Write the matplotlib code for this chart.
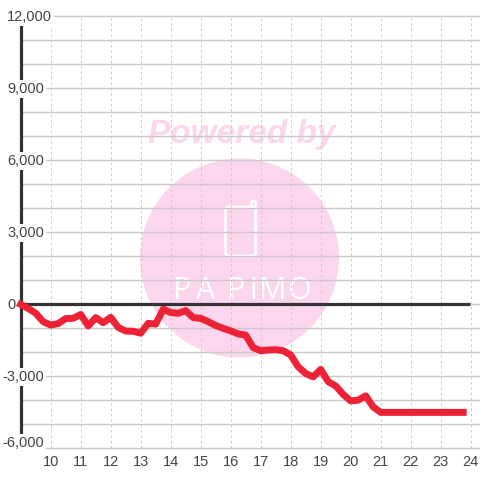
"""Cumulative balance by hour, with the Papimo watermark behind the plot."""

import matplotlib

matplotlib.use("Agg")
import matplotlib.pyplot as plt
from matplotlib.patches import Circle, FancyBboxPatch
from matplotlib.transforms import Affine2D, blended_transform_factory

plt.rcParams["font.family"] = ["Liberation Sans", "DejaVu Sans"]

HOURS = [
    9.0, 9.25, 9.5, 9.75, 10.0, 10.25, 10.5, 10.75, 11.0, 11.25, 11.5, 11.75,
    12.0, 12.25, 12.5, 12.75, 13.0, 13.25, 13.5, 13.75, 14.0, 14.25, 14.5, 14.75,
    15.0, 15.25, 15.5, 15.75, 16.0, 16.25, 16.5, 16.75, 17.0, 17.25, 17.5, 17.75,
    18.0, 18.25, 18.5, 18.75, 19.0, 19.25, 19.5, 19.75, 20.0, 20.25, 20.5, 20.75,
    21.0, 21.25, 21.5, 21.75, 22.0, 22.25, 22.5, 22.75, 23.0, 23.25, 23.5, 23.75,
]
BALANCE = [
    0, -170, -370, -720, -860, -800, -590, -580, -420, -900, -550, -760,
    -540, -960, -1110, -1120, -1200, -790, -820, -200, -340, -370, -260, -550,
    -580, -720, -880, -1000, -1100, -1230, -1280, -1800, -1930, -1900, -1890, -1930,
    -2110, -2600, -2880, -3020, -2710, -3220, -3400, -3750, -4020, -3990, -3810, -4270,
    -4500, -4500, -4500, -4500, -4500, -4500, -4500, -4500, -4500, -4500, -4500, -4500,
]
X_TICKS = list(range(10, 25))
Y_GRID = list(range(-6000, 13000, 1000))
Y_LABELS = [12000, 9000, 6000, 3000, 0, -3000, -6000]
LOGO_LETTERS = ["P", "A", "P", "i", "M", "O"]

GRID = "#c9c9c9"
DARK = "#333333"
TEXT = "#444444"
RED = "#ee2236"
PINK = "#fbd6ec"

fig = plt.figure(figsize=(4.8, 4.8), dpi=100)
ax = fig.add_axes([0, 0, 1, 1])
ax.set_xlim(8.31, 24.31)
ax.set_ylim(-7317, 12683)
ax.set_axis_off()

# image pixels, y pointing down, for the watermark and label offsets
px = Affine2D().scale(1 / 480, -1 / 480).translate(0, 1) + fig.transFigure
px_x = blended_transform_factory(px, ax.transData)
px_y = blended_transform_factory(ax.transData, px)

# watermark
ax.add_patch(Circle((239.5, 258), 99.5, transform=px, color=PINK, lw=0, zorder=0))
ax.text(242, 135, "Powered by", transform=px, color=PINK, fontsize=24,
        fontweight="bold", fontstyle="italic", ha="center", va="center", zorder=0.2)
ax.add_patch(FancyBboxPatch((225.5, 207), 30, 49, boxstyle="round,pad=0,rounding_size=3",
                            transform=px, fc="none", ec="white", lw=1.8, zorder=0.2))
ax.plot([251.5, 251.5, 253.5, 255.5, 255.5], [207, 202, 200.5, 202, 210], transform=px,
        color="white", lw=1.8, solid_capstyle="round", zorder=0.2)
for letter, left in zip(LOGO_LETTERS, [173, 196, 227, 250, 259, 287]):
    ax.text(left, 291, letter, transform=px, color="white", fontsize=22,
            family="Open Sans", ha="left", va="center", zorder=0.2)

# grid
ax.hlines(Y_GRID, 9, 24.31, color=GRID, lw=1.0, zorder=1)
ax.vlines(X_TICKS, -6000, 12000, color=GRID, lw=0.7, linestyles=(0, (2.5, 3)), zorder=1)

# axis lines
ax.vlines(9, -5500, 11667, color=DARK, lw=2.3, zorder=2)
ax.hlines(0, 9, 23.99, color=DARK, lw=2.3, zorder=2)

# tick labels sit on white boxes that interrupt the grid and axis
for value in Y_LABELS:
    left = 7 if value >= 0 else 2.7
    y = value - 40 if value != -6000 else -5770
    ax.text(left, y, f"{value:,}", transform=px_x, color=TEXT, fontsize=10.5,
            ha="left", va="center", zorder=3,
            bbox=dict(fc="white", ec="none", pad=1.5))
for hour in X_TICKS:
    ax.text(hour, 461.5, str(hour), transform=px_y, color=TEXT, fontsize=10.5,
            ha="center", va="center", zorder=3)

ax.plot(HOURS, BALANCE, color=RED, lw=5, solid_capstyle="projecting",
        solid_joinstyle="round", zorder=4)

fig.savefig("out.png", dpi=100)
